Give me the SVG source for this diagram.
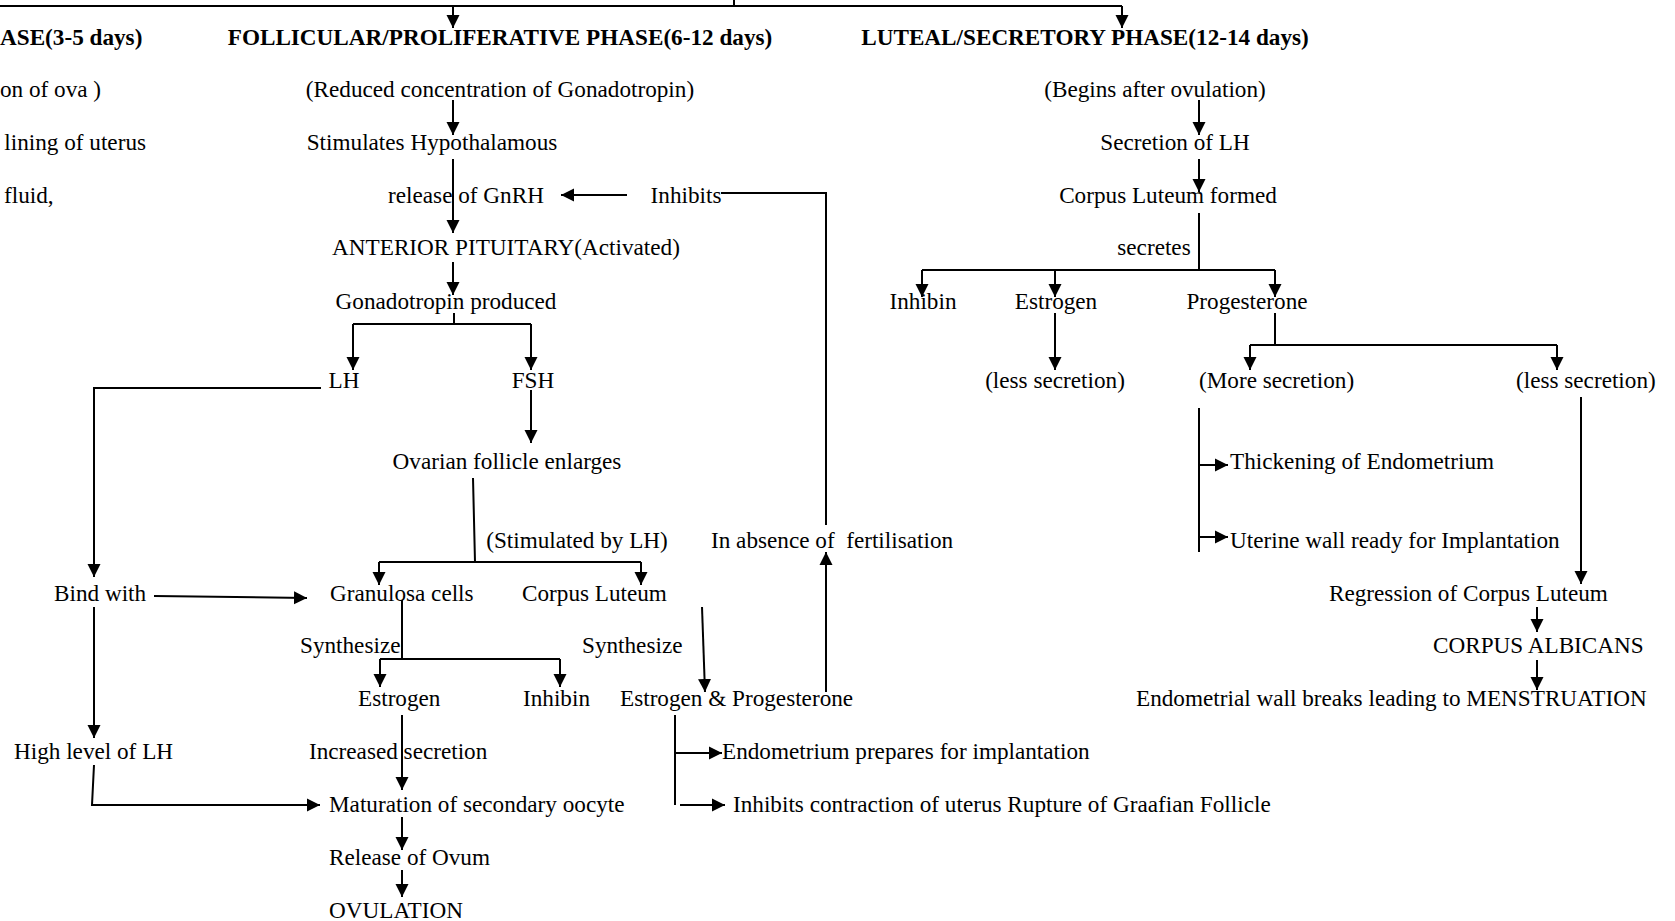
<svg xmlns="http://www.w3.org/2000/svg" width="1675" height="921" viewBox="0 0 1675 921">
  <style>
    .t { font-family: "Liberation Serif", "Times New Roman", serif; font-size: 23.2px; fill: #000; }
    .h { font-weight: bold; }
    .c { stroke: #000; stroke-width: 2; fill: none; }
    .a { marker-end: url(#ah); }
  </style>
  <defs>
    <marker id="ah" markerUnits="userSpaceOnUse" markerWidth="14" markerHeight="14" refX="13" refY="7" orient="auto">
      <path d="M0,0.5 L13,7 L0,13.5 z" fill="#000"/>
    </marker>
  </defs>
  <rect width="1675" height="921" fill="#fff"/>

  <!-- phase headings -->
  <g id="h-menstrual"><text class="t h" x="0" y="45">ASE(3-5 days)</text></g>
  <g id="h-follicular"><text class="t h" x="500" y="45" text-anchor="middle">FOLLICULAR/PROLIFERATIVE PHASE(6-12 days)</text></g>
  <g id="h-luteal"><text class="t h" x="1085" y="45" text-anchor="middle">LUTEAL/SECRETORY PHASE(12-14 days)</text></g>

  <!-- menstrual column (partly cut) -->
  <g id="m-ova"><text class="t" x="0" y="97">on of ova )</text></g>
  <g id="m-lining"><text class="t" x="146" y="150" text-anchor="end">lining of uterus</text></g>
  <g id="m-fluid"><text class="t" x="4" y="203">fluid,</text></g>

  <!-- follicular column -->
  <g id="f-reduced"><text class="t" x="500" y="97" text-anchor="middle">(Reduced concentration of Gonadotropin)</text></g>
  <g id="f-stimulates"><text class="t" x="432" y="150" text-anchor="middle">Stimulates Hypothalamous</text></g>
  <g id="f-gnrh"><text class="t" x="466" y="203" text-anchor="middle">release of GnRH</text></g>
  <g id="f-inhibits"><text class="t" x="686" y="203" text-anchor="middle">Inhibits</text></g>
  <g id="f-pituitary"><text class="t" x="506" y="255" text-anchor="middle">ANTERIOR PITUITARY(Activated)</text></g>
  <g id="f-gonadotropin"><text class="t" x="446" y="309" text-anchor="middle">Gonadotropin produced</text></g>
  <g id="f-lh"><text class="t" x="344" y="388" text-anchor="middle">LH</text></g>
  <g id="f-fsh"><text class="t" x="533" y="388" text-anchor="middle">FSH</text></g>
  <g id="f-ovarian"><text class="t" x="507" y="469" text-anchor="middle">Ovarian follicle enlarges</text></g>
  <g id="f-stimlh"><text class="t" x="577" y="548" text-anchor="middle">(Stimulated by LH)</text></g>
  <g id="f-absence"><text class="t" x="711" y="548">In absence of&#160; fertilisation</text></g>
  <g id="f-bind"><text class="t" x="54" y="601">Bind with</text></g>
  <g id="f-granulosa"><text class="t" x="330" y="601">Granulosa cells</text></g>
  <g id="f-corpus"><text class="t" x="522" y="601">Corpus Luteum</text></g>
  <g id="f-synth1"><text class="t" x="300" y="653">Synthesize</text></g>
  <g id="f-synth2"><text class="t" x="582" y="653">Synthesize</text></g>
  <g id="f-estrogen"><text class="t" x="358" y="706">Estrogen</text></g>
  <g id="f-inhibin"><text class="t" x="523" y="706">Inhibin</text></g>
  <g id="f-estprog"><text class="t" x="620" y="706">Estrogen &amp; Progesterone</text></g>
  <g id="f-highlh"><text class="t" x="14" y="759">High level of LH</text></g>
  <g id="f-increased"><text class="t" x="309" y="759">Increased secretion</text></g>
  <g id="f-endoprep"><text class="t" x="722" y="759">Endometrium prepares for implantation</text></g>
  <g id="f-maturation"><text class="t" x="329" y="812">Maturation of secondary oocyte</text></g>
  <g id="f-contraction"><text class="t" x="733" y="812">Inhibits contraction of uterus Rupture of Graafian Follicle</text></g>
  <g id="f-release"><text class="t" x="329" y="865">Release of Ovum</text></g>
  <g id="f-ovulation"><text class="t" x="329" y="918">OVULATION</text></g>

  <!-- luteal column -->
  <g id="l-begins"><text class="t" x="1155" y="97" text-anchor="middle">(Begins after ovulation)</text></g>
  <g id="l-secretion"><text class="t" x="1175" y="150" text-anchor="middle">Secretion of LH</text></g>
  <g id="l-formed"><text class="t" x="1168" y="203" text-anchor="middle">Corpus Luteum formed</text></g>
  <g id="l-secretes"><text class="t" x="1154" y="255" text-anchor="middle">secretes</text></g>
  <g id="l-inhibin"><text class="t" x="923" y="309" text-anchor="middle">Inhibin</text></g>
  <g id="l-estrogen"><text class="t" x="1056" y="309" text-anchor="middle">Estrogen</text></g>
  <g id="l-progesterone"><text class="t" x="1247" y="309" text-anchor="middle">Progesterone</text></g>
  <g id="l-less1"><text class="t" x="1055" y="388" text-anchor="middle">(less secretion)</text></g>
  <g id="l-more"><text class="t" x="1199" y="388">(More secretion)</text></g>
  <g id="l-less2"><text class="t" x="1516" y="388">(less secretion)</text></g>
  <g id="l-thickening"><text class="t" x="1230" y="469">Thickening of Endometrium</text></g>
  <g id="l-uterine"><text class="t" x="1230" y="548">Uterine wall ready for Implantation</text></g>
  <g id="l-regression"><text class="t" x="1329" y="601">Regression of Corpus Luteum</text></g>
  <g id="l-albicans"><text class="t" x="1433" y="653">CORPUS ALBICANS</text></g>
  <g id="l-menstruation"><text class="t" x="1136" y="706">Endometrial wall breaks leading to MENSTRUATION</text></g>

  <g id="connectors">
    <!-- top distribution bar -->
    <path class="c" d="M734,0 V6 M0,6 H1122"/>
    <path class="c a" d="M453,6 V28"/>
    <path class="c a" d="M1122,6 V28"/>

    <!-- follicular chain -->
    <path class="c a" d="M453,100 V135"/>
    <path class="c a" d="M453,159 V233"/>
    <path class="c a" d="M453,262 V295"/>
    <path class="c" d="M454,313 V324 M353,324 H531"/>
    <path class="c a" d="M353,324 V370"/>
    <path class="c a" d="M531,324 V370"/>
    <path class="c a" d="M321,388 H94 V577"/>
    <path class="c a" d="M531,390 V443"/>
    <path class="c" d="M473,478 L475,562 M379,562 H641"/>
    <path class="c a" d="M379,562 V585"/>
    <path class="c a" d="M641,562 V585"/>
    <path class="c a" d="M154,596 L307,598"/>
    <path class="c a" d="M94,607 V738"/>
    <path class="c a" d="M94,765 L92,805 H320"/>
    <path class="c" d="M402,600 V659 M380,659 H560"/>
    <path class="c a" d="M380,659 V687"/>
    <path class="c a" d="M560,659 V687"/>
    <path class="c a" d="M402,715 V790"/>
    <path class="c a" d="M402,817 V850"/>
    <path class="c a" d="M402,870 V897"/>

    <!-- corpus luteum feedback -->
    <path class="c a" d="M702,607 L705,692"/>
    <path class="c a" d="M826,692 V552"/>
    <path class="c" d="M826,525 V193 H721"/>
    <path class="c a" d="M627,195 H561"/>
    <path class="c" d="M675,715 V805"/>
    <path class="c a" d="M675,753 H722"/>
    <path class="c a" d="M680,805 H725"/>

    <!-- luteal chain -->
    <path class="c a" d="M1199,100 V135"/>
    <path class="c a" d="M1199,159 V192"/>
    <path class="c" d="M1199,213 V270 M922,270 H1275"/>
    <path class="c a" d="M922,270 V297"/>
    <path class="c a" d="M1055,270 V297"/>
    <path class="c a" d="M1275,270 V297"/>
    <path class="c a" d="M1055,313 V370"/>
    <path class="c" d="M1275,313 V345 M1250,345 H1557"/>
    <path class="c a" d="M1250,345 V370"/>
    <path class="c a" d="M1557,345 V370"/>
    <path class="c" d="M1199,408 V552"/>
    <path class="c a" d="M1199,465 H1228"/>
    <path class="c a" d="M1199,537 H1228"/>
    <path class="c a" d="M1581,397 V584"/>
    <path class="c a" d="M1537,607 V632"/>
    <path class="c a" d="M1537,660 V690"/>
  </g>
</svg>
